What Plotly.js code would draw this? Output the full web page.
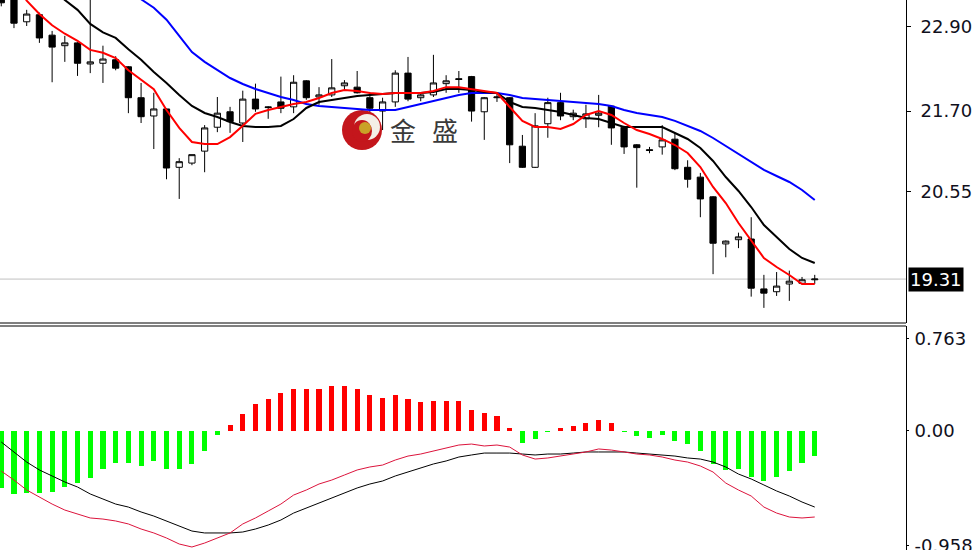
<!DOCTYPE html>
<html>
<head>
<meta charset="utf-8">
<script src="https://cdn.plot.ly/plotly-3.0.1.min.js"></script>
<style>
html,body{margin:0;padding:0;background:#fff;}
#chart{width:975px;height:550px;}
</style>
</head>
<body>
<div id="chart"></div>
<script>
// ---- candle data (bar 0 = leftmost) ----
const open  = [23.60,23.32,22.97,23.07,22.78,22.63,22.67,22.37,22.38,22.43,22.33,21.89,21.63,21.73,20.90,20.96,21.13,21.47,21.69,21.53,21.87,21.76,21.83,21.76,22.13,21.90,21.93,22.06,22.04,21.89,21.70,21.83,22.24,21.89,21.93,22.09,22.16,22.19,21.69,21.89,21.89,21.20,20.90,21.52,21.82,21.62,21.59,21.64,21.77,21.47,21.22,21.15,21.19,21.30,20.90,20.76,20.48,19.81,19.87,19.88,19.17,19.13,19.24,19.25,19.30];
const high  = [23.70,23.42,23.14,23.10,22.84,22.77,22.68,23.31,22.63,22.48,22.34,22.10,21.96,21.74,21.03,21.08,21.50,21.90,21.76,21.99,22.09,21.77,22.19,22.21,22.14,22.04,22.44,22.14,22.27,21.97,21.89,22.28,22.47,21.97,22.50,22.21,22.27,22.20,21.90,21.97,21.90,21.36,21.67,21.89,21.96,21.72,21.79,21.93,21.78,21.49,21.23,21.19,21.50,21.39,21.00,20.82,20.49,19.86,19.97,20.19,19.37,19.41,19.43,19.34,19.37];
const low   = [23.19,22.88,22.91,22.67,22.11,22.40,22.20,22.24,22.10,22.28,21.67,21.53,21.16,20.73,20.45,20.93,20.83,21.40,21.39,21.26,21.69,21.59,21.67,21.67,21.86,21.79,21.90,22.00,21.95,21.69,21.43,21.76,21.84,21.84,21.90,21.96,21.96,21.55,21.29,21.83,20.96,20.89,20.89,21.32,21.57,21.57,21.46,21.47,21.22,21.09,20.61,21.10,21.08,20.86,20.61,20.19,19.38,19.62,19.75,19.06,18.90,19.07,19.00,19.24,19.24];
const close = [23.24,22.95,23.08,22.74,22.61,22.67,22.38,22.40,22.44,22.31,21.89,21.62,21.73,20.89,20.98,21.08,21.46,21.67,21.55,21.87,21.73,21.75,21.74,22.11,21.89,21.93,22.03,22.10,21.96,21.74,21.83,22.24,21.87,21.93,22.10,22.13,22.15,21.70,21.89,21.90,21.22,20.90,21.49,21.82,21.63,21.67,21.66,21.67,21.46,21.19,21.18,21.14,21.29,20.88,20.73,20.45,19.82,19.85,19.91,19.18,19.11,19.21,19.28,19.30,19.31];

// ---- moving averages ----
const maFast = [23.92,23.56,23.27,23.08,22.92,22.80,22.70,22.57,22.53,22.455,22.28,22.14,22.01,21.715,21.46,21.26,21.23,21.23,21.33,21.49,21.66,21.715,21.76,21.80,21.83,21.886,21.957,22.00,21.986,21.957,21.943,21.957,21.957,21.957,21.986,22.04,22.04,22.014,21.986,21.957,21.758,21.56,21.473,21.473,21.445,21.516,21.644,21.70,21.644,21.53,21.43,21.374,21.303,21.217,21.104,20.904,20.62,20.392,20.108,19.866,19.61,19.482,19.368,19.24,19.24];
const maMid  = [24.06,23.92,23.78,23.64,23.45,23.28,23.14,22.94,22.82,22.74,22.58,22.43,22.256,22.10,21.929,21.772,21.673,21.616,21.545,21.488,21.473,21.473,21.488,21.587,21.744,21.829,21.858,21.886,21.914,21.929,21.943,21.957,21.957,21.957,21.971,22.014,22.014,22.00,21.971,21.957,21.829,21.758,21.744,21.715,21.687,21.644,21.601,21.587,21.53,21.473,21.473,21.473,21.473,21.388,21.303,21.175,20.99,20.762,20.563,20.335,20.079,19.909,19.738,19.61,19.539];
const maSlow = [24.845,24.70,24.56,24.42,24.28,24.13,24.005,23.86,23.72,23.58,23.44,23.29,23.17,23.00,22.77,22.54,22.40,22.28,22.17,22.085,22.014,21.957,21.90,21.858,21.80,21.772,21.758,21.744,21.73,21.715,21.715,21.715,21.758,21.80,21.843,21.886,21.929,21.957,21.957,21.957,21.929,21.886,21.872,21.858,21.843,21.829,21.815,21.80,21.772,21.715,21.673,21.644,21.616,21.56,21.488,21.417,21.317,21.203,21.089,20.976,20.862,20.776,20.691,20.577,20.435];

// ---- MACD panel ----
const macdHist = [-0.48,-0.53,-0.52,-0.52,-0.51,-0.47,-0.44,-0.40,-0.32,-0.27,-0.27,-0.30,-0.25,-0.32,-0.32,-0.28,-0.17,-0.04,0.05,0.14,0.22,0.26,0.31,0.35,0.35,0.35,0.37,0.37,0.35,0.30,0.27,0.30,0.26,0.24,0.25,0.25,0.25,0.17,0.15,0.12,0.02,-0.10,-0.07,-0.015,0.02,0.04,0.06,0.085,0.06,-0.01,-0.045,-0.06,-0.04,-0.085,-0.11,-0.17,-0.28,-0.33,-0.32,-0.39,-0.42,-0.39,-0.34,-0.27,-0.21];
const macdBlack = [-0.096,-0.179,-0.263,-0.329,-0.379,-0.429,-0.471,-0.529,-0.571,-0.613,-0.638,-0.679,-0.713,-0.754,-0.796,-0.838,-0.854,-0.854,-0.854,-0.846,-0.821,-0.788,-0.746,-0.688,-0.646,-0.604,-0.563,-0.521,-0.479,-0.446,-0.421,-0.379,-0.346,-0.313,-0.279,-0.254,-0.221,-0.204,-0.188,-0.188,-0.188,-0.196,-0.204,-0.196,-0.196,-0.188,-0.179,-0.179,-0.179,-0.179,-0.188,-0.196,-0.204,-0.213,-0.229,-0.238,-0.263,-0.304,-0.363,-0.404,-0.454,-0.504,-0.546,-0.596,-0.638];
const macdRed = [-0.338,-0.413,-0.496,-0.554,-0.613,-0.663,-0.696,-0.729,-0.738,-0.754,-0.779,-0.821,-0.854,-0.896,-0.946,-0.971,-0.938,-0.896,-0.854,-0.779,-0.729,-0.671,-0.613,-0.538,-0.496,-0.446,-0.413,-0.371,-0.329,-0.304,-0.288,-0.246,-0.213,-0.196,-0.171,-0.146,-0.121,-0.113,-0.129,-0.121,-0.138,-0.204,-0.238,-0.229,-0.213,-0.196,-0.179,-0.154,-0.163,-0.179,-0.196,-0.204,-0.221,-0.246,-0.263,-0.296,-0.346,-0.438,-0.496,-0.546,-0.638,-0.688,-0.721,-0.729,-0.721];

const priceTicks = [22.90, 21.70, 20.55];
const priceTickText = ['22.90', '21.70', '20.55'];
const macdTicks = [0.763, 0, -0.958];
const macdTickText = ['0.763', '0.00', '-0.958'];
const lastPrice = 19.31;
const logoText = ['金', '盛'];

const idx = open.map((_, i) => i);

const traces = [
  {
    type: 'candlestick', x: idx, open: open, high: high, low: low, close: close,
    xaxis: 'x', yaxis: 'y', whiskerwidth: 0, hoverinfo: 'skip',
    increasing: {line: {color: '#000', width: 1}, fillcolor: '#ffffff'},
    decreasing: {line: {color: '#000', width: 1}, fillcolor: '#000000'},
    showlegend: false
  },
  {type: 'scatter', mode: 'lines', x: idx, y: maSlow, xaxis: 'x', yaxis: 'y', line: {color: '#0000ff', width: 2}, showlegend: false, hoverinfo: 'skip'},
  {type: 'scatter', mode: 'lines', x: idx, y: maMid, xaxis: 'x', yaxis: 'y', line: {color: '#000000', width: 2}, showlegend: false, hoverinfo: 'skip'},
  {type: 'scatter', mode: 'lines', x: idx, y: maFast, xaxis: 'x', yaxis: 'y', line: {color: '#ff0000', width: 2}, showlegend: false, hoverinfo: 'skip'},
  {
    type: 'bar', x: idx, y: macdHist, xaxis: 'x', yaxis: 'y2', width: 0.4,
    marker: {color: macdHist.map(v => v >= 0 ? '#ff0000' : '#00ff00'), line: {width: 0}},
    showlegend: false, hoverinfo: 'skip'
  },
  {type: 'scatter', mode: 'lines', x: idx, y: macdBlack, xaxis: 'x', yaxis: 'y2', line: {color: '#000000', width: 1}, showlegend: false, hoverinfo: 'skip'},
  {type: 'scatter', mode: 'lines', x: idx, y: macdRed, xaxis: 'x', yaxis: 'y2', line: {color: '#dc143c', width: 1}, showlegend: false, hoverinfo: 'skip'}
];

const W = 906, H = 550;
const px = v => v / W;
const py = v => 1 - v / H;
const axisFont = {family: 'DejaVu Sans, Verdana, sans-serif', size: 18, color: '#10101c'};

const layout = {
  width: 975, height: 550,
  margin: {l: 0, r: 69, t: 0, b: 0, pad: 0},
  paper_bgcolor: '#ffffff', plot_bgcolor: '#ffffff',
  showlegend: false,
  bargap: 0,
  xaxis: {
    range: [-0.1, 71.18], visible: false, showgrid: false, zeroline: false,
    rangeslider: {visible: false}, fixedrange: true
  },
  yaxis: {
    domain: [py(323), 1], range: [18.685, 23.28], side: 'right',
    showgrid: false, zeroline: false, showline: true, linecolor: '#000', linewidth: 1,
    ticks: 'outside', ticklen: 4, tickcolor: '#000', tickwidth: 1,
    tickvals: priceTicks, ticktext: priceTickText, tickfont: axisFont,
    ticklabelstandoff: 6, ticklabeloverflow: 'allow', fixedrange: true
  },
  yaxis2: {
    domain: [0, py(326)], range: [-0.996, 0.871], side: 'right',
    showgrid: false, zeroline: false, showline: true, linecolor: '#000', linewidth: 1,
    ticks: 'outside', ticklen: 2, tickcolor: '#000', tickwidth: 1,
    tickvals: macdTicks, ticktext: macdTickText, tickfont: axisFont,
    ticklabelstandoff: 2, ticklabeloverflow: 'allow', fixedrange: true
  },
  shapes: [
    {type: 'line', xref: 'paper', yref: 'y', x0: 0, x1: 1, y0: lastPrice, y1: lastPrice, line: {color: '#c0c0c0', width: 1}, layer: 'below'},
    {type: 'line', xref: 'paper', yref: 'paper', x0: 0, x1: 1, y0: py(323), y1: py(323), line: {color: '#000', width: 1}},
    {type: 'line', xref: 'paper', yref: 'paper', x0: 0, x1: 1, y0: py(326), y1: py(326), line: {color: '#000', width: 1}},
    // watermark logo
    {type: 'circle', xref: 'paper', yref: 'paper', x0: px(342), x1: px(382), y0: py(150), y1: py(110), fillcolor: '#c4161c', line: {width: 0}, layer: 'below'},
    {type: 'circle', xref: 'paper', yref: 'paper', x0: px(354), x1: px(380), y0: py(140), y1: py(114), fillcolor: '#f4efe6', line: {width: 0}, layer: 'below'},
    {type: 'circle', xref: 'paper', yref: 'paper', x0: px(352), x1: px(372), y0: py(142), y1: py(120), fillcolor: '#c4161c', line: {width: 0}, layer: 'below'},
    {type: 'circle', xref: 'paper', yref: 'paper', x0: px(359), x1: px(371), y0: py(134), y1: py(122), fillcolor: '#c9a227', line: {width: 0}, layer: 'below'}
  ],
  annotations: [
    {xref: 'paper', yref: 'y', x: 1, y: lastPrice, xanchor: 'left', yanchor: 'middle', xshift: 2,
     text: lastPrice.toFixed(2), showarrow: false, bgcolor: '#000000', borderpad: 1,
     font: {family: 'DejaVu Sans, Verdana, sans-serif', size: 18, color: '#ffffff'}},
    {xref: 'paper', yref: 'paper', x: px(403), y: py(130), xanchor: 'center', yanchor: 'middle',
     text: logoText[0], showarrow: false, font: {family: 'Noto Sans CJK SC', size: 26, color: '#3a3a3a'}},
    {xref: 'paper', yref: 'paper', x: px(445), y: py(130), xanchor: 'center', yanchor: 'middle',
     text: logoText[1], showarrow: false, font: {family: 'Noto Sans CJK SC', size: 26, color: '#3a3a3a'}}
  ]
};

Plotly.newPlot('chart', traces, layout, {staticPlot: true, displayModeBar: false});
</script>
</body>
</html>
